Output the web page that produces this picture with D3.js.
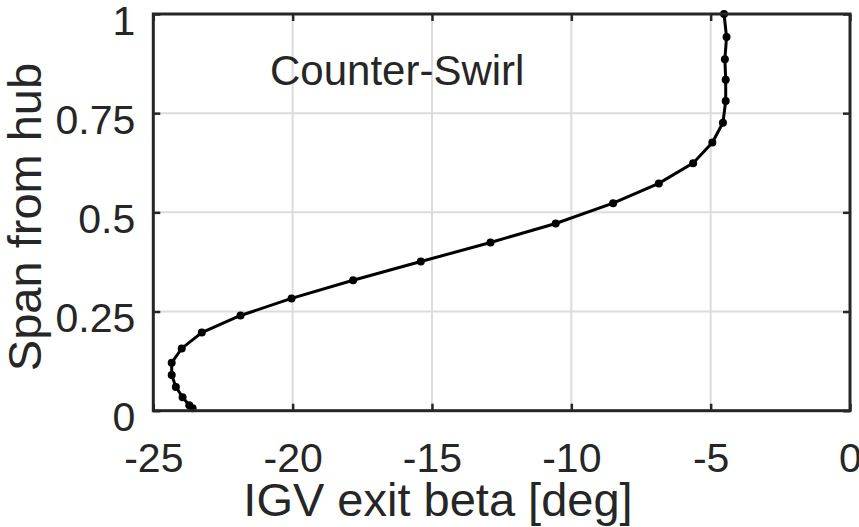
<!DOCTYPE html>
<html>
<head>
<meta charset="utf-8">
<script src="https://cdn.jsdelivr.net/npm/d3@7"></script>
<style>
html,body{margin:0;padding:0;background:#fff;}
svg{display:block;font-family:"Liberation Sans",Arial,Helvetica,sans-serif;}
</style>
</head>
<body>
<svg id="chart" width="859" height="527"></svg>
<script>
// Data
const span = [1.000, 0.942, 0.886, 0.834, 0.781, 0.726, 0.676, 0.624, 0.573, 0.523, 0.472, 0.424, 0.376, 0.329, 0.283, 0.240, 0.197, 0.157, 0.121, 0.090, 0.060, 0.034, 0.014, 0.006];
const beta = [-4.52, -4.43, -4.49, -4.46, -4.46, -4.56, -4.94, -5.63, -6.86, -8.50, -10.56, -12.90, -15.40, -17.83, -20.04, -21.87, -23.26, -23.98, -24.34, -24.34, -24.19, -23.95, -23.71, -23.59];
const xTicks = [-25, -20, -15, -10, -5, 0];
const yTicks = [0, 0.25, 0.5, 0.75, 1];
const yTickLabels = ["0", "0.25", "0.5", "0.75", "1"];
const xLabel = "IGV exit beta [deg]";
const yLabel = "Span from hub";
const annotation = "Counter-Swirl";

const svg = d3.select("#chart");
const L = 153.3, R = 850, T = 14, B = 410.7;
const x = d3.scaleLinear().domain([-25, 0]).range([L, R]);
const y = d3.scaleLinear().domain([0, 1]).range([B, T]);
const ink = "#262626";

// grid
const grid = svg.append("g");
grid.selectAll(".gx").data(xTicks).join("line")
  .attr("x1", d => x(d)).attr("x2", d => x(d)).attr("y1", T).attr("y2", B)
  .attr("stroke", "#dcdcdc").attr("stroke-width", 2);
grid.selectAll(".gy").data(yTicks).join("line")
  .attr("y1", d => y(d)).attr("y2", d => y(d)).attr("x1", L).attr("x2", R)
  .attr("stroke", "#dcdcdc").attr("stroke-width", 2);

// data line + markers
const pts = span.map((s, i) => ({s, b: beta[i]}));
const line = d3.line().x(d => x(d.b)).y(d => y(d.s));
svg.append("path").datum(pts).attr("d", line)
  .attr("fill", "none").attr("stroke", "#000").attr("stroke-width", 3);
svg.append("g").selectAll("circle").data(pts).join("circle")
  .attr("cx", d => x(d.b)).attr("cy", d => y(d.s)).attr("r", 4).attr("fill", "#000");

// axes
function styleAxis(g) {
  g.select(".domain").remove();
  g.selectAll(".tick line").attr("stroke", ink).attr("stroke-width", 2.5);
  g.selectAll(".tick text").attr("fill", ink).attr("font-size", 41)
    .attr("font-family", "'Liberation Sans', Arial, sans-serif");
}
const xAxis = svg.append("g").attr("transform", `translate(0,${B})`)
  .call(d3.axisBottom(x).tickValues(xTicks).tickSize(-7).tickFormat(d => String(d)));
styleAxis(xAxis);
xAxis.selectAll(".tick text").attr("dy", null).attr("y", 61);

const xTop = svg.append("g").attr("transform", `translate(0,${T})`)
  .call(d3.axisTop(x).tickValues(xTicks).tickSize(-7).tickFormat(""));
styleAxis(xTop);

const yAxis = svg.append("g").attr("transform", `translate(${L},0)`)
  .call(d3.axisLeft(y).tickValues(yTicks).tickSize(-7).tickFormat((d, i) => yTickLabels[i]));
styleAxis(yAxis);
yAxis.selectAll(".tick text").attr("dy", null).attr("x", -18).attr("y", 20);

const yRight = svg.append("g").attr("transform", `translate(${R},0)`)
  .call(d3.axisRight(y).tickValues(yTicks).tickSize(-7).tickFormat(""));
styleAxis(yRight);

// box
svg.append("rect").attr("x", L).attr("y", T).attr("width", R - L).attr("height", B - T)
  .attr("fill", "none").attr("stroke", ink).attr("stroke-width", 3);

// labels
svg.append("text").attr("x", 438).attr("y", 516).attr("text-anchor", "middle")
  .attr("font-size", 47).attr("fill", ink).text(xLabel);
svg.append("text").attr("transform", "translate(41,217) rotate(-90)").attr("text-anchor", "middle")
  .attr("font-size", 47).attr("fill", ink).text(yLabel);
svg.append("text").attr("x", 270).attr("y", 85)
  .attr("font-size", 42).attr("fill", ink).text(annotation);
</script>
</body>
</html>
